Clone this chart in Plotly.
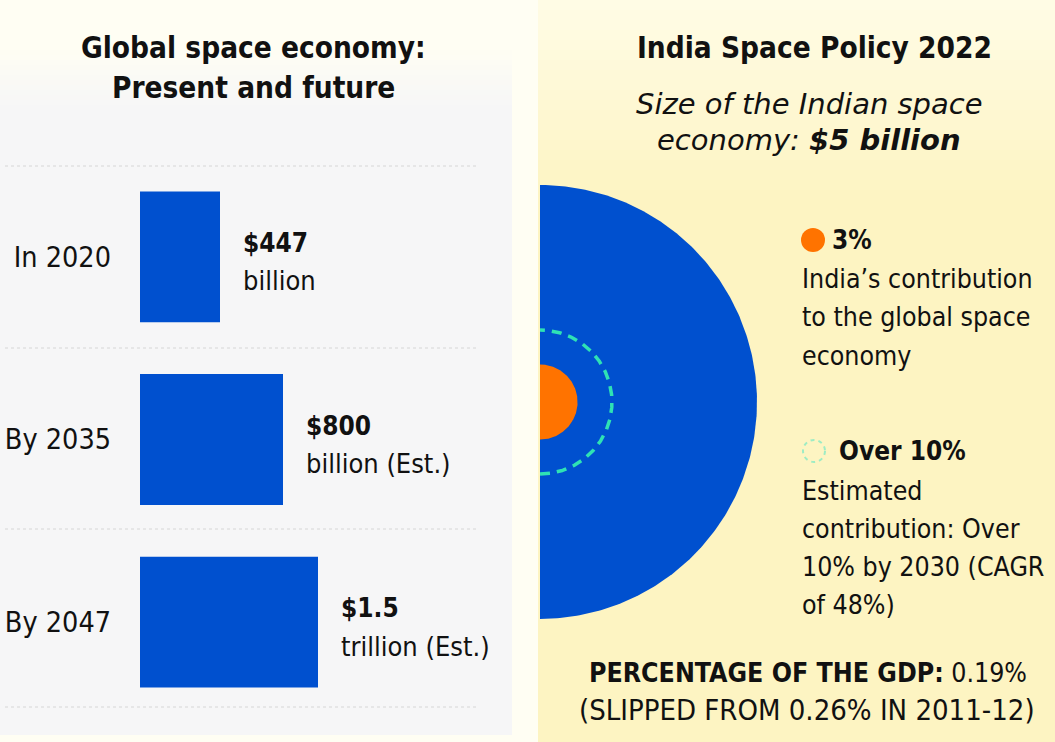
import numpy as np
import plotly.graph_objects as go

W, H = 1055, 742

# ---------------- data ----------------
periods = ["In 2020", "By 2035", "By 2047"]
value_main = ["$447", "$800", "$1.5"]
value_unit = ["billion", "billion (Est.)", "trillion (Est.)"]
bar_length = [80, 143, 178]          # drawn bar lengths as in the graphic (arbitrary units)

circle_labels = ["Global space economy", "India today", "India by 2030"]
circle_share = [100, 3, 11]          # % of global space economy (area-proportional circles)

# ---------------- style ----------------
NARROW = "DejaVu Sans Condensed, Liberation Sans Narrow, Roboto, sans-serif"
ITAL = "DejaVu Sans, Open Sans, sans-serif"
BLUE = "#0050cf"
ORANGE = "#ff7300"
TEAL = "#2fe2b4"
INK = "#111111"

def px(x):
    return x / W

def py(y):
    return 1 - y / H

fig = go.Figure()

# ---- left panel: horizontal bars ----
fig.add_trace(go.Bar(
    x=bar_length, y=periods, orientation="h",
    marker=dict(color=BLUE, line=dict(width=0)),
    xaxis="x", yaxis="y", hoverinfo="skip", showlegend=False,
))

# ---- right panel: area-proportional semicircles ----
R_full = 217.0
radii = [R_full * np.sqrt(s / 100.0) for s in circle_share]
theta = np.linspace(-np.pi / 2, np.pi / 2, 241)

fig.add_trace(go.Scatter(
    x=np.concatenate([radii[0] * np.cos(theta), [0]]),
    y=np.concatenate([radii[0] * np.sin(theta), [-radii[0]]]),
    mode="lines", fill="toself", fillcolor=BLUE, line=dict(width=0, color=BLUE),
    xaxis="x2", yaxis="y2", hoverinfo="skip", showlegend=False, name=circle_labels[0],
))
fig.add_trace(go.Scatter(
    x=np.concatenate([radii[1] * np.cos(theta), [0]]),
    y=np.concatenate([radii[1] * np.sin(theta), [-radii[1]]]),
    mode="lines", fill="toself", fillcolor=ORANGE, line=dict(width=0, color=ORANGE),
    xaxis="x2", yaxis="y2", hoverinfo="skip", showlegend=False, name=circle_labels[1],
))
fig.add_trace(go.Scatter(
    x=radii[2] * np.cos(theta), y=radii[2] * np.sin(theta),
    mode="lines", line=dict(width=3.5, color=TEAL, dash="10px,7px"),
    xaxis="x2", yaxis="y2", hoverinfo="skip", showlegend=False, name=circle_labels[2],
))

# ---- backgrounds ----
shapes = []

def mix(c1, c2, t):
    a = [int(c1[i:i + 2], 16) for i in (1, 3, 5)]
    b = [int(c2[i:i + 2], 16) for i in (1, 3, 5)]
    return "rgb(%d,%d,%d)" % tuple(round(a[k] + (b[k] - a[k]) * t) for k in range(3))

CREAM = "#fffef3"
GRAY = "#f6f6f7"
nb = 12
for i in range(nb):
    y0 = 50 + i * 5
    shapes.append(dict(type="rect", xref="paper", yref="paper", layer="below",
                       x0=px(0), x1=px(512), y0=py(y0 + 5), y1=py(y0),
                       fillcolor=mix(CREAM, GRAY, (i + 1) / nb), line=dict(width=0)))
shapes.append(dict(type="rect", xref="paper", yref="paper", layer="below",
                   x0=px(0), x1=px(512), y0=py(735), y1=py(110),
                   fillcolor=GRAY, line=dict(width=0)))
YTOP = "#fffce6"
YEL = "#fdf4c2"
nb2 = 20
for i in range(nb2):
    y0 = i * 10
    shapes.append(dict(type="rect", xref="paper", yref="paper", layer="below",
                       x0=px(538), x1=px(W), y0=py(y0 + 10), y1=py(y0),
                       fillcolor=mix(YTOP, YEL, (i + 0.5) / nb2), line=dict(width=0)))
shapes.append(dict(type="rect", xref="paper", yref="paper", layer="below",
                   x0=px(538), x1=px(W), y0=py(H), y1=py(200),
                   fillcolor=YEL, line=dict(width=0)))
for yy in [166, 348, 529, 707]:
    shapes.append(dict(type="line", xref="paper", yref="paper", layer="below",
                       x0=px(5), x1=px(476), y0=py(yy), y1=py(yy),
                       line=dict(color="#d6d6d6", width=1, dash="dot")))
# legend icons
shapes.append(dict(type="circle", xref="paper", yref="paper",
                   x0=px(801), x1=px(825), y0=py(252), y1=py(228),
                   fillcolor=ORANGE, line=dict(width=0)))
shapes.append(dict(type="circle", xref="paper", yref="paper",
                   x0=px(803), x1=px(825), y0=py(462), y1=py(440),
                   fillcolor="rgba(0,0,0,0)", line=dict(color="#9eecc4", width=2, dash="4px,4px")))

# ---- annotations ----
ann = []
def text(x, y, s, size=26.5, family=NARROW, xanchor="left", color=INK):
    ann.append(dict(xref="paper", yref="paper", x=px(x - 3 if xanchor == "left" else x), y=py(y), text=s,
                    showarrow=False, xanchor=xanchor, yanchor="middle",
                    align=xanchor if xanchor != "center" else "center",
                    font=dict(family=family, size=size, color=color)))

def lines(x, ys, strs, **kw):
    for yy, s in zip(ys, strs):
        text(x, yy, s, **kw)

lines(253, [48, 88], ["<b>Global space economy:</b>", "<b>Present and future</b>"], size=29.5, xanchor="center")
text(814, 48, "<b>India Space Policy 2022</b>", size=29.5, xanchor="center")
lines(809, [104, 140], ["<i>Size of the Indian space</i>", "<i>economy: <b>$5 billion</b></i>"],
      size=29, family=ITAL, xanchor="center")

for i in range(len(periods)):
    ann.append(dict(xref="x", yref="y", x=bar_length[i], y=periods[i],
                    xshift=21, yshift=14, showarrow=False, xanchor="left", yanchor="middle",
                    text="<b>%s</b>" % value_main[i],
                    font=dict(family=NARROW, size=26, color=INK)))
    ann.append(dict(xref="x", yref="y", x=bar_length[i], y=periods[i],
                    xshift=21, yshift=-24, showarrow=False, xanchor="left", yanchor="middle",
                    text=value_unit[i],
                    font=dict(family=NARROW, size=27, color=INK)))

text(833, 240, "<b>%d%%</b>" % circle_share[1], size=26)
lines(803, [278, 317, 355], ["India’s contribution", "to the global space", "economy"])
text(840, 451, "<b>Over 10%</b>", size=26)
lines(803, [490, 528, 566, 604], ["Estimated", "contribution: Over", "10% by 2030 (CAGR", "of 48%)"])
text(808, 672, "<b>PERCENTAGE OF THE GDP:</b> 0.19%", size=26.5, xanchor="center")
text(807, 710, "(SLIPPED FROM 0.26% IN 2011-12)", size=29, xanchor="center")

fig.update_layout(
    width=W, height=H, autosize=False,
    margin=dict(l=0, r=0, t=0, b=0),
    paper_bgcolor=CREAM, plot_bgcolor="rgba(0,0,0,0)",
    bargap=0.284,
    xaxis=dict(domain=[px(140), px(540)], range=[0, 400], visible=False, fixedrange=True),
    yaxis=dict(domain=[py(713.5), py(165.5)], type="category", autorange="reversed",
               showgrid=False, zeroline=False, showline=False, ticks="",
               tickfont=dict(family=NARROW, size=28.5, color=INK), ticklabelstandoff=28,
               fixedrange=True),
    xaxis2=dict(domain=[px(540), 1], range=[0, 515], visible=False, fixedrange=True),
    yaxis2=dict(domain=[0, 1], range=[-340, 402], visible=False, fixedrange=True, anchor="x2"),
    shapes=shapes,
    annotations=ann,
)

fig.write_html("out.html", config={"displayModeBar": False},
               post_script="document.body.style.margin='0';document.body.style.background='#fffef3';")
